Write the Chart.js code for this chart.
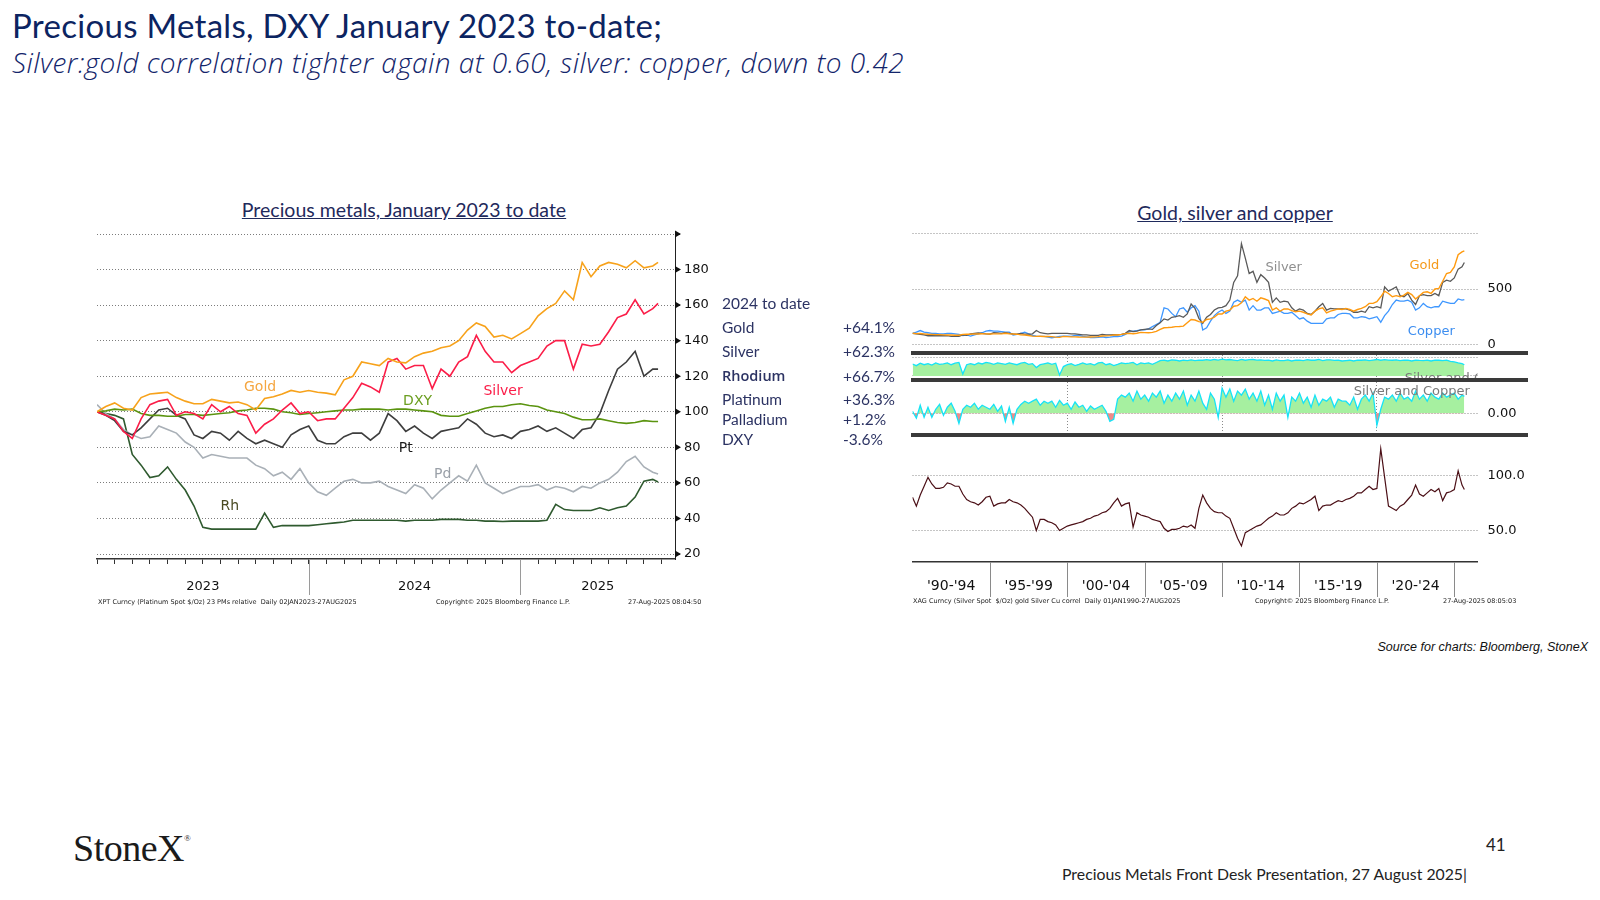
<!DOCTYPE html>
<html>
<head>
<meta charset="utf-8">
<script src="https://cdn.jsdelivr.net/npm/chart.js@4.4.1/dist/chart.umd.min.js"></script>
<style>
  body { margin: 0; width: 1600px; height: 900px; background: #fff; position: relative; overflow: hidden; font-family: Lato, sans-serif; }
  .t { position: absolute; white-space: nowrap; }
  canvas { position: absolute; }
  .bar { position: absolute; left: 911px; width: 617px; height: 4px; background: #3a3a3a; }
  .bb { font: 6.5px "DejaVu Sans"; color: #222; line-height: 8px; }
  .lg { font-size: 15.5px; color: #2c3363; line-height: 20px; }
</style>
</head>
<body>

<div class="t" style="left:12px;top:6px;font-size:33px;line-height:38px;letter-spacing:0.3px;color:#0c2461;">Precious Metals, DXY January 2023 to-date;</div>
<div class="t" style="left:12px;top:45px;font-family:'Open Sans';font-size:28px;line-height:34px;letter-spacing:0.45px;font-style:italic;font-weight:300;color:#13256b;">Silver:gold correlation tighter again at 0.60, silver: copper, down to 0.42</div>

<div class="t" style="left:204px;top:198px;width:400px;text-align:center;font-size:19.5px;line-height:24px;color:#1f2a5c;text-decoration:underline;">Precious metals, January 2023 to date</div>
<div class="t" style="left:1035px;top:201px;width:400px;text-align:center;font-size:19.5px;line-height:24px;color:#1f2a5c;text-decoration:underline;">Gold, silver and copper</div>

<canvas id="left" width="648" height="395" style="left:87px;top:214px;width:648px;height:395px;"></canvas>

<div id="legend"></div>

<canvas id="p1" width="660" height="126" style="left:900px;top:225px;width:660px;height:126px;"></canvas>
<div class="bar" style="top:350.5px;"></div>
<canvas id="p2" width="660" height="24" style="left:900px;top:354.5px;width:660px;height:24px;"></canvas>
<div class="bar" style="top:378px;"></div>
<canvas id="p3" width="660" height="51" style="left:900px;top:382px;width:660px;height:51px;"></canvas>
<div class="bar" style="top:432.5px;"></div>
<canvas id="p4" width="660" height="165" style="left:900px;top:436.5px;width:660px;height:165px;"></canvas>

<div class="t bb" style="left:98px;top:598px;">XPT Curncy (Platinum Spot $/Oz) 23 PMs relative&nbsp;&nbsp;Daily 02JAN2023-27AUG2025</div>
<div class="t bb" style="left:436px;top:598px;">Copyright© 2025 Bloomberg Finance L.P.</div>
<div class="t bb" style="left:628px;top:598px;">27-Aug-2025 08:04:50</div>
<div class="t bb" style="left:913px;top:597px;">XAG Curncy (Silver Spot&nbsp;&nbsp;$/Oz) gold Silver Cu correl&nbsp;&nbsp;Daily 01JAN1990-27AUG2025</div>
<div class="t bb" style="left:1255px;top:597px;">Copyright© 2025 Bloomberg Finance L.P.</div>
<div class="t bb" style="left:1443px;top:597px;">27-Aug-2025 08:05:03</div>

<div class="t" style="right:12px;top:639px;font:italic 12.5px 'Liberation Sans';line-height:16px;color:#111;">Source for charts: Bloomberg, StoneX</div>

<div class="t" style="left:73px;top:816px;font:38px 'Liberation Serif';line-height:44px;color:#1b1b1b;letter-spacing:-0.5px;">StoneX<span style="font-size:9px;vertical-align:20px;">®</span></div>
<div class="t" style="left:1486px;top:834px;font-size:17px;line-height:22px;color:#222;">41</div>
<div class="t" style="right:133px;top:864px;font-size:15.8px;line-height:20px;color:#222;">Precious Metals Front Desk Presentation, 27 August 2025|</div>

<script>
// ---------- left chart: precious metals rebased, Jan 2023 = 100 (x = months since Jan 2023)
const monthsL = [0,0.5,1,1.5,2,2.5,3,3.5,4,4.5,5,5.5,6,6.5,7,7.5,8,8.5,9,9.5,10,10.5,11,11.5,
  12,12.5,13,13.5,14,14.5,15,15.5,16,16.5,17,17.5,18,18.5,19,19.5,20,20.5,21,21.5,22,22.5,23,23.5,
  24,24.5,25,25.5,26,26.5,27,27.5,28,28.5,29,29.5,30,30.5,31,31.5,31.8];
const gold = [100,103,105,102,101,108,110,110.5,111,108,106,104.5,104.5,107,106,105,105.5,104,101,107.5,
  108.5,110,112,111,112,111,110.5,109.5,118,120,128,127,126,130,128,127.5,131,133,134,136,
  137,140,146,150,148,142,143,141,144,147,154,158,161,168,163,184,176,182,184,183,181,185,181,182,184];
const silver = [100,98,96,89,85,96,104,106,107,98,100,99,96,104,100,103,99,98,88,93,
  96,101,105,99,100,95,96,96,102,108,116,114,111,128,130,124,126,126,113,124,
  120,128,131,143,134,128,128,122,126,128,130,137,140,140,124,138,137,138,145,153,155,163,155,158,161];
const platinum = [100,98,95,89,87,91,96,101,102,98,96,87,85,89,88,84,89,85,82,84,
  82,80,87,90,92,84,82,82,86,88,88,84,88,99,95,89,92,88,85,89,
  90,91,96,93,88,86,87,85,89,90,92,89,91,88,85,90,91,99,112,124,128,134,120,124,124];
const palladium = [104,99,96,90,87,85,86,92,90,88,83,80,74,76,75,74,74,74,70,68,
  64,66,62,68,60,55,53,57,61,62,60,60,61,58,56,54,59,57,51,56,
  60,64,61,70,60,57,54,56,58,58,59,56,58,57,55,58,57,60,62,66,72,75,69,66,65];
const rhodium = [100,99,98,96,76,70,63,64,69,62,56,47,35,34,34,34,34,34,34,43,
  35,36,36,36,36,36.5,37,37.5,38,39,39,39,39,39,39,38.5,39,39,39,39.5,
  39.5,39.5,39,39,38.5,38.5,38.3,38.5,38.5,38.5,38.5,39,48,45,44.5,44.5,44.5,46,44.5,46,47,52,61,62,60.5];
const dxy = [100,100.5,101.5,101,101.5,99,98,98,97.5,97.5,98.5,98.5,98,98.5,99,99.5,100.5,101,102,102,
  101.5,100,99.5,98.5,99,99.5,100,100.5,101,101,101.5,101.5,101.5,101,101.5,101.5,101,100.5,100,98,
  97.5,97.5,99,100.5,102,103,103,104,104.5,103.5,103,101,100,99,97,95.5,95.5,96,95,94,93.5,94,95,94.5,94.5];
const leftTickLabels = [20,40,60,80,100,120,140,160,180];
const yearLabels = ['2023','2024','2025'];
const yearEdges = [0,12,24,32.76];

const legendTitle = '2024 to date';
const legendNames = ['Gold','Silver','Rhodium','Platinum','Palladium','DXY'];
const legendChanges = ['+64.1%','+62.3%','+66.7%','+36.3%','+1.2%','-3.6%'];

// ---------- right chart: gold, silver, copper since 1990 (quarterly reads)
const rDates = [
  1990,1990.25,1990.5,1990.75, 1991,1991.25,1991.5,1991.75, 1992,1992.25,1992.5,1992.75,
  1993,1993.25,1993.5,1993.75, 1994,1994.25,1994.5,1994.75, 1995,1995.25,1995.5,1995.75,
  1996,1996.25,1996.5,1996.75, 1997,1997.25,1997.5,1997.75, 1998,1998.25,1998.5,1998.75,
  1999,1999.25,1999.5,1999.75, 2000,2000.25,2000.5,2000.75, 2001,2001.25,2001.5,2001.75,
  2002,2002.25,2002.5,2002.75, 2003,2003.25,2003.5,2003.75, 2004,2004.25,2004.5,2004.75,
  2005,2005.25,2005.5,2005.75, 2006,2006.25,2006.5,2006.75, 2007,2007.25,2007.5,2007.75,
  2008,2008.25,2008.5,2008.75, 2009,2009.25,2009.5,2009.75, 2010,2010.25,2010.5,2010.75,
  2011,2011.25,2011.5,2011.75, 2012,2012.25,2012.5,2012.75, 2013,2013.25,2013.5,2013.75,
  2014,2014.25,2014.5,2014.75, 2015,2015.25,2015.5,2015.75, 2016,2016.25,2016.5,2016.75,
  2017,2017.25,2017.5,2017.75, 2018,2018.25,2018.5,2018.75, 2019,2019.25,2019.5,2019.75,
  2020,2020.25,2020.5,2020.75, 2021,2021.25,2021.5,2021.75, 2022,2022.25,2022.5,2022.75,
  2023,2023.25,2023.5,2023.75, 2024,2024.25,2024.5,2024.75, 2025,2025.25,2025.5,2025.65];
const goldIdx = [
  100,97,98,95, 92,90,88,88, 86,84,85,82, 82,90,92,92, 95,94,96,95, 94,95,95,95,
  100,96,94,92, 86,85,80,74, 72,73,71,72, 70,65,63,72, 70,68,68,66, 65,65,67,68,
  70,76,77,79, 86,85,90,96, 100,96,100,108, 106,105,108,118, 135,150,152,155, 160,162,165,195,
  225,220,205,200, 225,230,245,275, 275,300,310,345, 350,375,430,400, 415,390,420,410, 395,310,330,300,
  320,320,305,295, 300,290,275,265, 300,320,330,285, 300,310,320,315, 325,315,300,315, 325,340,370,370,
  385,430,480,460, 430,440,430,445, 470,450,410,440, 470,475,460,500, 505,570,640,650, 700,810,835,845];
const silverIdx = [
  100,95,90,85, 78,80,78,78, 78,78,72,72, 72,85,82,95, 100,103,100,95, 93,105,103,100,
  105,100,95,93, 100,92,92,95, 125,105,100,95, 100,100,100,100, 100,95,95,90, 85,85,82,82,
  82,90,85,85, 88,85,90,100, 125,115,120,130, 135,140,135,170, 195,230,220,245, 250,260,245,275,
  365,325,235,190, 245,270,310,330, 335,350,400,560, 620,910,780,640, 660,560,630,600, 560,380,420,380,
  390,385,330,300, 320,310,280,270, 300,340,370,310, 325,320,320,320, 320,310,290,290, 300,290,340,330,
  340,330,520,480, 500,520,440,430, 460,400,360,440, 450,440,440,460, 440,560,580,570, 600,680,700,740];
const copperIdx = [
  100,110,125,110, 105,100,100,95, 95,100,100,95, 90,80,85,75, 85,95,105,120, 125,120,120,115,
  110,110,85,90, 100,110,95,80, 75,72,72,65, 60,65,72,75, 75,72,80,80, 72,68,62,60,
  64,68,62,65, 70,70,75,90, 115,120,125,130, 130,140,160,180, 200,330,320,280, 250,320,330,290,
  330,350,300,130, 150,210,260,290, 310,280,300,380, 400,380,400,310, 350,310,310,330, 330,280,290,300,
  280,280,290,260, 230,240,210,190, 190,190,190,230, 240,240,270,280, 280,275,240,240, 250,245,230,240,
  250,200,260,300, 360,400,390,390, 400,380,310,330, 370,340,330,340, 340,390,380,370, 370,410,400,405];
const corrSilverGold = [
  0.64,0.55,0.68,0.6, 0.66,0.58,0.7,0.62, 0.64,0.7,0.6,0.68, 0.72,0.1,0.6,0.66, 0.6,0.7,0.64,0.72, 0.68,0.62,0.7,0.66,
  0.62,0.7,0.65,0.6, 0.68,0.72,0.62,0.66, 0.45,0.6,0.65,0.7, 0.62,0.68,0.05,0.5, 0.6,0.65,0.55,0.62, 0.7,0.62,0.66,0.58,
  0.7,0.72,0.6,0.65, 0.55,0.62,0.7,0.66, 0.68,0.72,0.6,0.7, 0.66,0.7,0.62,0.72, 0.82,0.85,0.8,0.86, 0.84,0.8,0.85,0.82,
  0.86,0.82,0.85,0.84, 0.87,0.84,0.88,0.85, 0.9,0.86,0.88,0.85, 0.82,0.88,0.84,0.87, 0.88,0.85,0.86,0.83, 0.84,0.8,0.86,0.82,
  0.82,0.86,0.8,0.84, 0.85,0.82,0.87,0.84, 0.84,0.88,0.82,0.86, 0.86,0.83,0.85,0.8, 0.82,0.84,0.8,0.85, 0.84,0.86,0.82,0.85,
  0.88,0.84,0.87,0.85, 0.84,0.86,0.82,0.85, 0.84,0.8,0.85,0.83, 0.82,0.85,0.8,0.84, 0.84,0.82,0.85,0.78, 0.75,0.7,0.66,0.6];
const corrSilverCopper = [
  0.05,-0.12,0.2,-0.1, 0.15,-0.1,0.1,0.22, -0.05,0.15,0.25,0.05, -0.25,0.1,0.2,0.15, 0.25,0.1,0.2,0.15, 0.1,0.22,0.05,0.18,
  -0.2,0.15,-0.25,0.1, 0.22,0.3,0.25,0.3, 0.35,0.2,0.3,0.25, 0.3,0.15,0.32,0.2, 0.25,0.1,0.28,0.15, 0.2,0.05,0.18,0.1,
  0.15,0.2,0.05,-0.2, -0.15,0.35,0.45,0.4, 0.5,0.3,0.55,0.35, 0.45,0.3,0.5,0.4, 0.55,0.25,0.45,0.3, 0.5,0.35,0.55,0.2,
  0.45,0.3,0.55,0.25, 0.1,0.5,0.35,-0.1, 0.62,0.4,0.6,0.3, 0.55,0.45,0.6,0.35, 0.5,0.3,0.55,0.2, 0.45,0.1,0.5,0.3,
  0.45,-0.1,0.4,0.3, 0.5,0.25,0.4,0.15, 0.45,0.2,0.35,0.3, 0.4,0.15,0.35,0.3, 0.3,0.2,0.4,0.1, 0.35,0.45,0.3,0.5,
  -0.3,0.1,0.4,0.35, 0.45,0.3,0.5,0.35, 0.4,0.3,0.55,0.35, 0.45,0.3,0.5,0.4, 0.35,0.5,0.4,0.45, 0.5,0.35,0.45,0.42];
const goldSilverRatio = [
  80,72,82,90, 98,92,88,88, 89,93,92,90, 90,83,78,76, 75,73,76,80, 81,72,74,75,
  75,78,76,75, 73,70,66,62, 50,60,60,58, 57,55,50,52, 54,55,56,57, 58,60,61,63,
  64,66,67,70, 75,79,72,74, 75,53,66,64, 63,62,60,59, 58,52,49,51, 51,52,54,53,
  55,52,70,82, 75,70,67,66, 66,63,61,52, 43,36,48,50, 52,54,55,58, 61,63,66,64,
  64,66,70,72, 75,74,76,78, 81,68,72,73, 73,75,77,76, 78,79,81,84, 84,87,90,87,
  88,124,98,72, 70,68,72,74, 78,82,91,83, 81,84,87,85, 88,77,84,85, 87,104,91,87];
const periodLabels = ["'90-'94","'95-'99","'00-'04","'05-'09","'10-'14","'15-'19","'20-'24"];
const periodEdges = [1990,1995,2000,2005,2010,2015,2020,2025];

// ---------- helpers
const pts = (xs, ys) => ys.map((v, i) => ({ x: xs[i], y: v }));
const TICK_FONT = { family: 'DejaVu Sans', size: 13 };

const textMarks = {
  id: 'textMarks',
  afterDatasetsDraw(chart, args, opts) {
    const { ctx, chartArea, scales } = chart;
    (opts.items || []).forEach(m => {
      ctx.save();
      if (opts.clip) {
        ctx.beginPath();
        ctx.rect(chartArea.left, chartArea.top, chartArea.width, chartArea.height);
        ctx.clip();
      }
      ctx.font = (m.size || 13) + 'px "DejaVu Sans"';
      ctx.fillStyle = m.color;
      ctx.textAlign = 'left';
      ctx.textBaseline = m.baseline || 'middle';
      ctx.fillText(m.text, scales.x.getPixelForValue(m.x), scales.y.getPixelForValue(m.y));
      ctx.restore();
    });
  }
};

const bands = {
  id: 'bands',
  afterDraw(chart, args, opts) {
    if (!opts.edges) return;
    const { ctx, chartArea, scales: { x } } = chart;
    ctx.save();
    ctx.strokeStyle = opts.lineColor;
    ctx.lineWidth = 1;
    opts.edges.slice(1).forEach((v, i) => {
      if (i >= opts.labels.length - (opts.lastLine ? 0 : 1)) return;
      const px = Math.round(x.getPixelForValue(v)) + 0.5;
      ctx.beginPath();
      ctx.moveTo(px, chartArea.bottom);
      ctx.lineTo(px, chartArea.bottom + opts.sepLen);
      ctx.stroke();
    });
    ctx.font = opts.font;
    ctx.fillStyle = '#111';
    ctx.textAlign = 'center';
    ctx.textBaseline = 'middle';
    opts.labels.forEach((t, i) => {
      const c = (x.getPixelForValue(opts.edges[i]) + x.getPixelForValue(opts.edges[i + 1])) / 2;
      ctx.fillText(t, c, chartArea.bottom + opts.labelOffset);
    });
    ctx.restore();
  }
};

const axisArrows = {
  id: 'axisArrows',
  afterDraw(chart, args, opts) {
    if (!opts.values) return;
    const { ctx, chartArea, scales: { y } } = chart;
    ctx.save();
    ctx.fillStyle = '#111';
    opts.values.forEach(v => {
      const py = y.getPixelForValue(v);
      ctx.beginPath();
      ctx.moveTo(chartArea.right, py - 3.5);
      ctx.lineTo(chartArea.right + 6, py);
      ctx.lineTo(chartArea.right, py + 3.5);
      ctx.closePath();
      ctx.fill();
    });
    ctx.restore();
  }
};

const lineDs = (data, color, w) => ({
  data, borderColor: color, borderWidth: w || 1.6, pointRadius: 0, tension: 0, fill: false
});

const dotted = (vals, c) => (ctx) => (ctx.tick && vals.includes(ctx.tick.value)) ? (c || '#8a8a8a') : 'rgba(0,0,0,0)';

// ---------- left chart
new Chart(document.getElementById('left'), {
  type: 'line',
  data: {
    datasets: [
      lineDs(pts(monthsL, gold), '#f7a21b'),
      lineDs(pts(monthsL, silver), '#fb1d48'),
      lineDs(pts(monthsL, dxy), '#5b9410'),
      lineDs(pts(monthsL, platinum), '#3e3e3e'),
      lineDs(pts(monthsL, palladium), '#a9b0b7'),
      lineDs(pts(monthsL, rhodium), '#2f5a2f')
    ]
  },
  plugins: [textMarks, bands, axisArrows],
  options: {
    responsive: false,
    animation: false,
    layout: { padding: { left: 10, right: 10, top: 20, bottom: 5 } },
    plugins: {
      legend: { display: false },
      tooltip: { enabled: false },
      textMarks: {
        items: [
          { text: 'Gold', x: 8.33, y: 114, color: '#f5a640', size: 14 },
          { text: 'Silver', x: 21.9, y: 111.7, color: '#fb1d48', size: 14 },
          { text: 'DXY', x: 17.35, y: 105.6, color: '#6b9e1f', size: 14 },
          { text: 'Pt', x: 17.1, y: 79.4, color: '#1a1a1a', size: 14 },
          { text: 'Pd', x: 19.1, y: 64.6, color: '#9aa0a8', size: 14 },
          { text: 'Rh', x: 7.0, y: 47, color: '#4a4a22', size: 14 }
        ]
      },
      bands: { edges: yearEdges, labels: yearLabels, lineColor: '#9a9a9a', sepLen: 36, labelOffset: 28, font: '13px "DejaVu Sans"' },
      axisArrows: { values: leftTickLabels.concat([200]) }
    },
    scales: {
      x: {
        type: 'linear', min: 0, max: 32.76,
        afterBuildTicks: (s) => { const t = []; for (let m = 0; m <= 32; m++) t.push({ value: m }); s.ticks = t; },
        afterFit: (s) => { s.height = 45; s.paddingLeft = 0; s.paddingRight = 0; },
        ticks: { display: false },
        grid: { drawOnChartArea: false, drawTicks: true, tickLength: 5, tickColor: '#333' },
        border: { display: true, color: '#333', width: 1.5 }
      },
      y: {
        position: 'right', min: 17.2, max: 200,
        afterBuildTicks: (s) => { const t = []; for (let v = 20; v <= 200; v += 10) t.push({ value: v }); s.ticks = t; },
        afterFit: (s) => { s.width = 50; s.paddingTop = 0; s.paddingBottom = 0; },
        ticks: { font: TICK_FONT, color: '#111', padding: 4, callback: (v) => leftTickLabels.includes(v) ? String(v) : '' },
        grid: { color: dotted(leftTickLabels.concat([200]), '#7c7c7c'), tickLength: 5, tickColor: '#333' },
        border: { display: true, color: '#222', width: 1, dash: [1, 2] }
      }
    }
  }
});

// legend table
const lg = document.getElementById('legend');
let html = '<div class="t lg" style="left:722px;top:293px;">' + legendTitle + '</div>';
const rowY = [327, 351, 375.5, 399, 418.5, 439];
legendNames.forEach((n, i) => {
  const bold = n === 'Rhodium' ? "font-family:'Open Sans';font-weight:600;font-size:14.5px;" : '';
  html += '<div class="t lg" style="left:722px;top:' + (rowY[i] - 10) + 'px;' + bold + '">' + n + '</div>';
  html += '<div class="t lg" style="left:843px;top:' + (rowY[i] - 10) + 'px;">' + legendChanges[i] + '</div>';
});
lg.innerHTML = html;

// ---------- right chart panels
function rightPanel(id, cfg) {
  return new Chart(document.getElementById(id), {
    type: 'line',
    data: { datasets: cfg.datasets },
    plugins: [textMarks, bands],
    options: {
      responsive: false,
      animation: false,
      layout: { padding: { left: 12.5, right: 12.5, top: cfg.padTop || 0, bottom: 0 } },
      plugins: {
        legend: { display: false },
        tooltip: { enabled: false },
        textMarks: { items: cfg.marks || [], clip: true },
        bands: cfg.bands || {}
      },
      scales: {
        x: cfg.x,
        y: {
          position: 'right', min: cfg.min, max: cfg.max,
          afterBuildTicks: (s) => { s.ticks = cfg.grid.map(v => ({ value: v })); },
          afterFit: (s) => { s.width = 70; s.paddingTop = 0; s.paddingBottom = 0; },
          ticks: { display: !!cfg.labels, font: TICK_FONT, color: '#111', padding: 10,
                   callback: (v) => cfg.labels && cfg.labels[v] !== undefined ? cfg.labels[v] : '' },
          grid: { color: dotted(cfg.grid), drawTicks: false },
          border: { display: false, dash: [1, 2] }
        }
      }
    }
  });
}

const hiddenX = { type: 'linear', min: 1990, max: 2026.5, display: false };
const vLinesX = {
  type: 'linear', min: 1990, max: 2026.5,
  afterBuildTicks: (s) => { s.ticks = [2000, 2010, 2020].map(v => ({ value: v })); },
  afterFit: (s) => { s.height = 0; s.paddingLeft = 0; s.paddingRight = 0; },
  ticks: { display: false },
  grid: { color: '#8a8a8a', drawTicks: false },
  border: { display: false, dash: [1, 2] }
};

rightPanel('p1', {
  padTop: 8.7, min: -60, max: 1000, grid: [0, 500, 1000], labels: { 0: '0', 500: '500' },
  x: hiddenX,
  datasets: [
    lineDs(pts(rDates, goldIdx), '#ff9a0f', 1.4),
    lineDs(pts(rDates, silverIdx), '#5a5a5a', 1.3),
    lineDs(pts(rDates, copperIdx), '#3e97ff', 1.3)
  ],
  marks: [
    { text: 'Silver', x: 2012.8, y: 689, color: '#8f8f8f' },
    { text: 'Gold', x: 2022.1, y: 716, color: '#f59a1b' },
    { text: 'Copper', x: 2022.0, y: 117, color: '#3d8ef0' }
  ]
});

const corrFill = (data) => ({
  data, borderColor: '#16e3f7', borderWidth: 1.3, pointRadius: 0, tension: 0,
  fill: { target: 'origin', above: '#a6f0a0', below: '#f08a8a' }
});

rightPanel('p2', {
  min: -0.164, max: 1.12, grid: [0, 1],
  x: vLinesX,
  datasets: [corrFill(pts(rDates, corrSilverGold))],
  marks: [{ text: 'Silver and Gold', x: 2021.8, y: 0.19, color: '#7a7a7a', baseline: 'top' }]
});

rightPanel('p3', {
  min: -0.4875, max: 0.775, grid: [0], labels: { 0: '0.00' },
  x: vLinesX,
  datasets: [corrFill(pts(rDates, corrSilverCopper))],
  marks: [{ text: 'Silver and Copper', x: 2018.5, y: 0.525, color: '#7a7a7a' }]
});

rightPanel('p4', {
  min: 21.5, max: 134.5, grid: [50, 100], labels: { 50: '50.0', 100: '100.0' },
  x: {
    type: 'linear', min: 1990, max: 2026.5,
    afterFit: (s) => { s.height = 40; s.paddingLeft = 0; s.paddingRight = 0; },
    ticks: { display: false },
    grid: { display: false },
    border: { display: true, color: '#333', width: 1.5 }
  },
  datasets: [lineDs(pts(rDates, goldSilverRatio), '#4b0f16', 1.2)],
  bands: { edges: periodEdges, labels: periodLabels, lineColor: '#8a8a8a', sepLen: 35, labelOffset: 24, font: '14px "DejaVu Sans"', lastLine: true }
});
</script>
</body>
</html>
